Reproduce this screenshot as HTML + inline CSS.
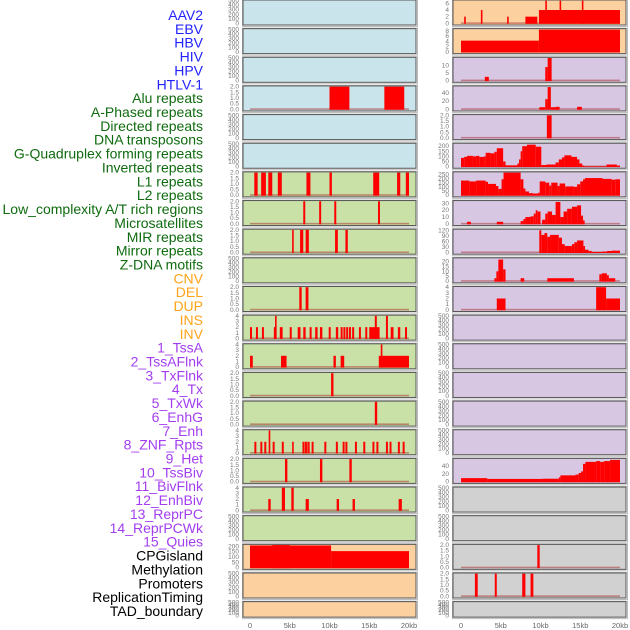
<!DOCTYPE html>
<html><head><meta charset="utf-8"><style>
html,body{margin:0;padding:0;background:#fff;width:630px;height:630px;overflow:hidden}
svg{display:block}
</style></head><body>
<svg id="c" width="630" height="630" viewBox="0 0 630 630" xmlns="http://www.w3.org/2000/svg"></svg>
<script>
// ---- data ----
const trackLabels = ["AAV2","EBV","HBV","HIV","HPV","HTLV-1","Alu repeats","A-Phased repeats","Directed repeats","DNA transposons","G-Quadruplex forming repeats","Inverted repeats","L1 repeats","L2 repeats","Low_complexity A/T rich regions","Microsatellites","MIR repeats","Mirror repeats","Z-DNA motifs","CNV","DEL","DUP","INS","INV","1_TssA","2_TssAFlnk","3_TxFlnk","4_Tx","5_TxWk","6_EnhG","7_Enh","8_ZNF_Rpts","9_Het","10_TssBiv","11_BivFlnk","12_EnhBiv","13_ReprPC","14_ReprPCWk","15_Quies","CPGisland","Methylation","Promoters","ReplicationTiming","TAD_boundary"];
const labelGroups = ["v","v","v","v","v","v","r","r","r","r","r","r","r","r","r","r","r","r","r","c","c","c","c","c","s","s","s","s","s","s","s","s","s","s","s","s","s","s","s","o","o","o","o","o"];
const xTicks = [0,5,10,15,20];
const xTickLabels = ["0","5kb","10kb","15kb","20kb"];
const ticksEmpty = [0,100,200,300,400,500];
const ticks2 = [0,0.5,1,1.5,2];
const ticks4 = [0,1,2,3,4];
// bars: [startKb, endKb, value]
const L3 = [[10.0,12.5,2],[16.9,19.4,2]];
const L6 = [[0.54,0.96,2],[1.4,2.0,2],[2.3,2.8,2],[3.5,4.0,2],[7.1,7.6,2],[10.0,10.3,2],[15.5,16.25,2],[18.5,18.9,2],[19.6,20.0,2]];
const L7 = [[6.7,6.95,2],[8.7,8.95,2],[10.6,10.85,2],[16.1,16.35,2]];
const L8 = [[5.3,5.5,2],[6.3,6.7,2],[7.0,7.4,2],[10.7,11.05,2],[12.0,12.3,2]];
const L10 = [[6.2,6.5,2],[7.0,7.35,2]];
const L11 = [[0,0.25,2],[0.75,1.0,2],[1.5,1.75,2],[3.0,3.25,2],[3.15,3.35,4],[3.75,4.1,2],[5.0,5.25,2],[6.0,6.35,2],[6.7,7.0,2],[7.5,7.75,2],[8.2,8.5,2],[8.8,9.1,2],[9.9,10.15,2],[10.8,11.1,2],[11.4,11.65,2],[11.75,12.0,2],[12.1,12.35,2],[12.45,12.7,2],[12.85,13.1,2],[13.7,13.95,2],[14.5,14.75,2],[15.0,16.3,2],[15.7,15.95,4],[17.1,17.35,4],[17.7,18.05,2],[18.6,18.9,2],[19.5,19.75,2]];
const L12 = [[0,0.35,2],[3.9,4.6,2],[10.5,10.8,2],[11.4,11.85,2],[16.2,20.0,2],[16.45,16.65,4]];
const L13 = [[10.2,10.5,2]];
const L14 = [[15.7,16.0,2]];
const L15 = [[0.55,0.8,2],[1.3,1.55,2],[1.8,2.05,2],[2.35,2.55,4],[2.85,3.1,2],[4.0,4.25,2],[5.3,5.5,2],[6.6,6.8,2],[6.85,7.0,2],[7.05,7.25,2],[7.3,7.5,2],[7.75,8.0,2],[9.35,9.6,2],[10.8,11.05,2],[11.65,11.9,2],[12.0,12.25,2],[13.2,13.45,2],[14.25,14.5,2],[15.4,15.65,2],[15.9,16.15,2],[17.1,17.35,2],[17.55,17.8,2],[18.6,18.85,2],[19.2,19.45,2]];
const L16 = [[4.4,4.7,2],[8.8,9.1,2],[12.5,12.8,2]];
const L17 = [[2.3,2.6,2],[4.0,4.4,4],[5.2,5.5,4],[7.0,7.4,2],[10.9,11.2,2],[12.9,13.2,2],[18.7,19.1,2]];
const L19 = [[0,10.2,208],[2.8,5.0,212],[10.2,20.0,155]];
const R0 = [[0.4,0.6,2],[2.5,2.7,4],[5.8,6.0,2],[8.1,9.6,2],[9.8,20.0,4],[10.6,10.8,7],[12.4,12.6,7],[15.2,15.4,7]];
const R1 = [[0,9.8,4.3],[9.8,20.0,8.5]];
const R2 = [[3.0,3.5,2.5],[10.6,10.9,9],[10.9,11.4,15]];
const R3 = [[9.85,10.6,5],[10.6,10.9,25],[10.9,11.3,55],[11.3,11.9,5],[11.9,12.4,6],[14.6,15.2,6]];
const R4 = [[10.8,11.4,2]];
const R5 = [[0,0.4,85],[0.4,0.75,95],[0.75,1.5,105],[1.5,1.9,100],[1.9,2.3,105],[2.3,2.9,95],[2.9,3.1,100],[3.1,3.7,135],[3.7,4.2,130],[4.2,4.5,145],[4.5,5.3,180],[5.3,5.6,50],[5.6,7.1,12],[7.1,7.3,30],[7.3,7.5,70],[7.5,7.7,150],[7.7,8.3,200],[8.3,9.4,215],[9.4,10.1,195],[10.1,10.75,15],[10.75,11.9,20],[11.9,12.3,40],[12.3,12.7,70],[12.7,13.0,90],[13.0,13.9,110],[13.9,14.6,95],[14.6,14.9,70],[14.9,15.25,30],[15.25,15.5,10],[15.5,18.3,2],[18.3,19.6,20],[19.6,20.0,10]];
const R6 = [[0,1.05,175],[1.05,1.9,165],[1.9,3.1,175],[3.1,3.4,160],[3.4,4.4,135],[4.4,4.7,110],[4.7,5.1,75],[5.1,5.35,190],[5.35,7.5,270],[7.5,7.85,190],[7.85,8.1,80],[8.1,8.55,45],[8.55,9.05,25],[9.05,9.7,20],[9.7,9.9,30],[9.9,10.6,165],[10.6,11.1,150],[11.1,11.35,115],[11.35,12.15,150],[12.15,12.4,110],[12.4,13.1,140],[13.1,14.2,105],[14.2,14.6,100],[14.6,15.0,130],[15.0,15.35,165],[15.35,15.6,190],[15.6,17.8,205],[17.8,18.95,195],[18.95,19.4,185],[19.4,20.0,190]];
const R7 = [[0.75,1.25,3],[4.5,5.3,3],[7.5,7.85,4],[7.85,8.1,7],[8.1,8.75,10],[8.75,9.15,11],[9.15,9.4,15],[9.4,9.6,20],[9.6,10.0,18],[10.2,10.6,6],[10.6,10.9,15],[10.9,11.45,18],[11.45,11.9,13],[11.9,12.5,32],[12.5,12.9,10],[12.9,13.35,18],[13.35,13.95,22],[13.95,14.6,25],[14.6,15.1,27],[15.1,15.35,12],[15.35,15.5,5]];
const R8 = [[9.85,10.1,120],[10.1,10.5,95],[10.5,10.85,105],[10.85,11.2,85],[11.2,12.3,95],[12.3,12.7,80],[12.7,13.05,45],[13.05,13.95,35],[13.95,14.25,45],[14.25,14.6,55],[14.6,15.4,65],[15.4,15.6,35],[15.6,16.05,15],[16.05,16.45,8],[16.45,17.7,3],[17.7,18.35,5],[18.35,18.95,8],[18.95,20.0,10]];
const R9 = [[4.2,4.45,3],[4.45,4.7,10],[4.7,5.3,22],[5.3,5.6,12],[7.5,7.95,3],[10.85,14.2,3],[17.4,17.7,7],[17.7,18.35,8],[18.35,18.6,6],[18.6,19.4,3]];
const R10 = [[4.5,5.6,2],[17.0,18.25,4],[18.25,20.0,2]];
const R16 = [[0,3.3,9],[3.3,10.2,7],[10.2,12.3,7.5],[12.3,12.5,11],[12.5,14.4,16],[14.4,14.8,18],[14.8,15.1,22],[15.1,15.35,26],[15.35,15.65,45],[15.65,17.0,50],[17.0,17.5,52],[17.5,18.0,50],[18.0,18.75,52],[18.75,20.0,55]];
const R19 = [[9.6,9.9,2]];
const R20 = [[1.75,2.1,2],[4.25,4.5,2],[7.7,8.1,2],[8.75,9.1,2]];

const BLUE="#c9e4eb", GREEN="#c9e1a6", PEACH="#fdd19f", LAV="#d7c7e3", GREY="#d1d1d1";
// [col,row,bg,max,ticks,bars]
const panels = [
 [0,0,BLUE,500,ticksEmpty,null],[0,1,BLUE,500,ticksEmpty,null],[0,2,BLUE,500,ticksEmpty,null],
 [0,3,BLUE,2,ticks2,L3],[0,4,BLUE,500,ticksEmpty,null],[0,5,BLUE,500,ticksEmpty,null],
 [0,6,GREEN,2,ticks2,L6],[0,7,GREEN,2,ticks2,L7],[0,8,GREEN,2,ticks2,L8],[0,9,GREEN,500,ticksEmpty,null],
 [0,10,GREEN,2,ticks2,L10],[0,11,GREEN,4,ticks4,L11],[0,12,GREEN,4,ticks4,L12],[0,13,GREEN,2,ticks2,L13],
 [0,14,GREEN,2,ticks2,L14],[0,15,GREEN,4,ticks4,L15],[0,16,GREEN,2,ticks2,L16],[0,17,GREEN,4,ticks4,L17],
 [0,18,GREEN,500,ticksEmpty,null],[0,19,PEACH,212,[0,50,100,150,200],L19],[0,20,PEACH,500,ticksEmpty,null],[0,21,PEACH,500,ticksEmpty,null],
 [1,0,PEACH,6.8,[0,2,4,6],R0],[1,1,PEACH,8.6,[0,2,4,6,8],R1],[1,2,LAV,15,[0,5,10],R2],[1,3,LAV,56,[0,20,40],R3],
 [1,4,LAV,2,ticks2,R4],[1,5,LAV,222,[0,50,100,150,200],R5],[1,6,LAV,270,[0,50,100,150,200,250],R6],
 [1,7,LAV,33,[0,10,20,30],R7],[1,8,LAV,122,[0,30,60,90,120],R8],[1,9,LAV,23,[0,5,10,15,20],R9],
 [1,10,LAV,4,ticks4,R10],[1,11,LAV,500,ticksEmpty,null],[1,12,LAV,500,ticksEmpty,null],[1,13,LAV,500,ticksEmpty,null],
 [1,14,LAV,500,ticksEmpty,null],[1,15,LAV,500,ticksEmpty,null],[1,16,LAV,57,[0,20,40],R16],
 [1,17,GREY,500,ticksEmpty,null],[1,18,GREY,500,ticksEmpty,null],[1,19,GREY,2,ticks2,R19],[1,20,GREY,2,ticks2,R20],[1,21,GREY,500,ticksEmpty,null]
];

// ---- drawing ----
const NS="http://www.w3.org/2000/svg";
const svg=document.getElementById('c');
function mk(tag,attrs,parent){const e=document.createElementNS(NS,tag);for(const k in attrs)e.setAttribute(k,attrs[k]);(parent||svg).appendChild(e);return e;}
const colX=[243,453], zeroX=[250,461], kbPx=7.95, panelW=173;
function xScale(col,kb){return zeroX[col]+kb*kbPx;}
function rowTop(r){return r*28.65;}
function rowH(r){return r===21?15.5:25;}
const groupColor={v:"#2222ff",r:"#0f6b0f",c:"#ffa31a",s:"#a33ef0",o:"#000"};

trackLabels.forEach((t,i)=>{
  const el=mk('text',{x:203,y:15+i*13.86+5,'text-anchor':'end','font-size':'14','font-family':'Liberation Sans, sans-serif',fill:groupColor[labelGroups[i]]});
  el.textContent=t;
  
  
});

panels.forEach(p=>{
  const [col,row,bg,max,ticks,bars]=p;
  const top=rowTop(row), h=rowH(row), bot=top+h;
  const g=mk('g',{});
  
  
  mk('rect',{x:colX[col]-0.5,y:top-0.5,width:panelW+2,height:h+2,fill:'none',stroke:'#bbb','stroke-width':1},g);
  mk('rect',{x:colX[col],y:top,width:panelW,height:h,fill:bg,stroke:'#555','stroke-width':1},g);
  const y0=bot-1.7, y1=top+0.7;
  const yS=v=>y0-(Math.min(v,max)/max)*(y0-y1);
  ticks.forEach(t=>{
    const tl=mk('text',{x:colX[col]-4,y:yS(t)+2,'text-anchor':'end','font-size':'6.5','font-family':'Liberation Sans, sans-serif',fill:'#777'},g);
    tl.textContent=(ticks===ticks2)?t.toFixed(1):String(t);
    
    
  });
  if(bars){
    mk('rect',{x:xScale(col,0),y:y0-1,width:xScale(col,20)-xScale(col,0),height:1.6,fill:'rgba(170,60,60,0.55)'},g);
    bars.forEach(b=>{
      const xa=xScale(col,b[0]), xb=xScale(col,b[1]);
      const r=mk('rect',{x:xa,y:yS(b[2]),width:Math.max(1.6,xb-xa),height:y0-yS(b[2])+0.5,fill:'#ff0000'},g);
      
      
    });
  }
});

[0,1].forEach(col=>{
  xTicks.forEach((t,i)=>{
    const el=mk('text',{x:xScale(col,t),y:628,'text-anchor':'middle','font-size':'7.5','font-family':'Liberation Sans, sans-serif',fill:'#666'});
    el.textContent=xTickLabels[i];
    
    
  });
});
</script>
</body></html>
